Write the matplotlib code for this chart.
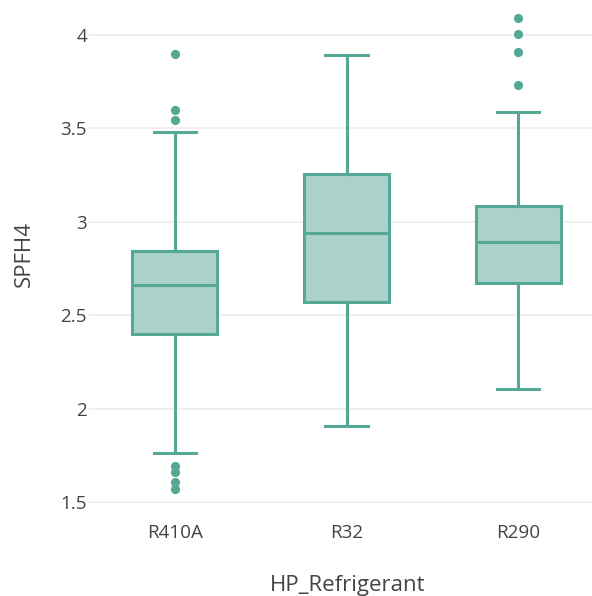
import matplotlib
matplotlib.use("Agg")
import matplotlib.pyplot as plt

# Summary statistics of SPFH4 per refrigerant
categories = ["R410A", "R32", "R290"]
q1_vals = [2.398, 2.572, 2.672]
median_vals = [2.661, 2.941, 2.893]
q3_vals = [2.842, 3.257, 3.086]
whisker_low = [1.762, 1.906, 2.104]
whisker_high = [3.480, 3.890, 3.588]
outliers = [
    [3.898, 3.597, 3.542, 1.695, 1.660, 1.608, 1.571],
    [],
    [4.088, 4.002, 3.906, 3.733],
]
y_ticks = [1.5, 2, 2.5, 3, 3.5, 4]
y_tick_labels = ["1.5", "2", "2.5", "3", "3.5", "4"]

line_color = "#54A895"
fill_color = "#AAD2CA"
text_color = "#444444"
grid_color = "#ebebeb"

W, H = 592, 596
fig = plt.figure(figsize=(W / 100, H / 100), dpi=100)
plt.rcParams["font.family"] = ["Open Sans", "DejaVu Sans"]

# plot area in pixels: left 89, right 604 (extends past the canvas), top 0, bottom 512
left_px, right_px, top_px, bottom_px = 89, 604, 0, 512
ax = fig.add_axes([left_px / W, 1 - bottom_px / H,
                   (right_px - left_px) / W, (bottom_px - top_px) / H])

stats = []
for i, name in enumerate(categories):
    stats.append(dict(label=name, med=median_vals[i], q1=q1_vals[i], q3=q3_vals[i],
                      whislo=whisker_low[i], whishi=whisker_high[i],
                      fliers=outliers[i]))

lw = 2.2
ax.bxp(stats, positions=range(len(categories)), widths=0.495, capwidths=0.245,
       patch_artist=True, showfliers=True,
       boxprops=dict(facecolor=fill_color, edgecolor=line_color, linewidth=lw),
       medianprops=dict(color=line_color, linewidth=lw),
       whiskerprops=dict(color=line_color, linewidth=lw),
       capprops=dict(color=line_color, linewidth=lw),
       flierprops=dict(marker="o", markersize=6.6, markerfacecolor=line_color,
                       markeredgecolor="none", linestyle="none"))

ax.set_xlim(-0.5, 2.5)
ax.set_ylim(1.4476, 4.186)
ax.set_yticks(y_ticks)
ax.set_yticklabels(y_tick_labels)
ax.set_xticks(range(len(categories)))
ax.set_xticklabels(categories)
ax.tick_params(axis="both", length=0, labelsize=13.6, colors=text_color)
ax.tick_params(axis="y", pad=1.5)
ax.tick_params(axis="x", pad=8.5)
ax.grid(axis="y", color=grid_color, linewidth=1.1)
ax.set_axisbelow(True)
for s in ax.spines.values():
    s.set_visible(False)

fig.text(24.5 / W, 1 - 254 / H, "SPFH4", rotation=90, ha="center", va="center",
         fontsize=16, color=text_color)
fig.text(348 / W, 1 - 586 / H, "HP_Refrigerant", ha="center", va="center",
         fontsize=16, color=text_color)

fig.savefig("out.png", dpi=100)
